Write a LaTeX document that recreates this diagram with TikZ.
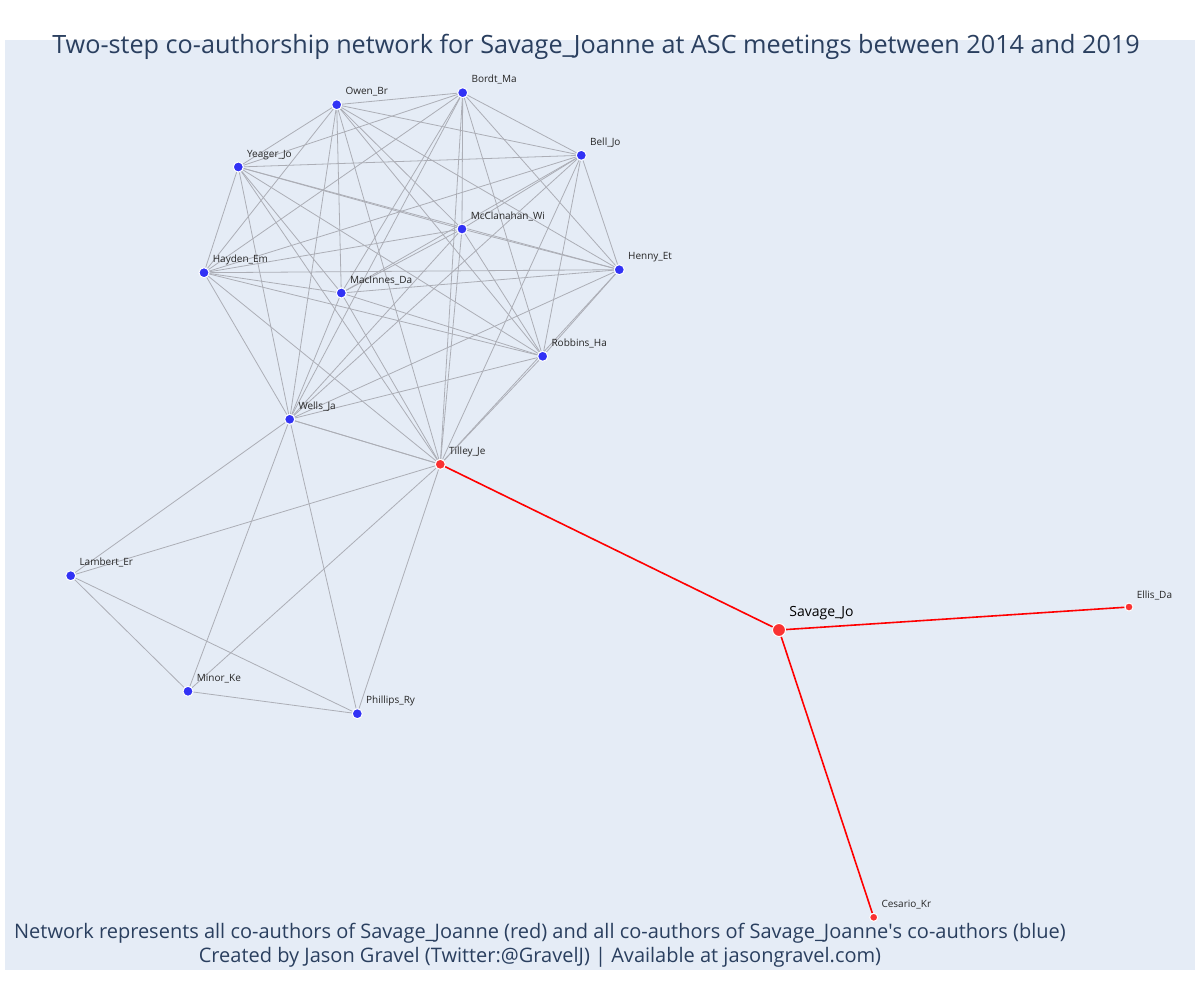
\documentclass[tikz,border=0pt]{standalone}
\usepackage{fontspec}
\setmainfont{Open Sans}
\usetikzlibrary{backgrounds}
\definecolor{plotbg}{HTML}{E5ECF6}
\definecolor{titlec}{HTML}{2A3F5F}
\definecolor{bluenode}{RGB}{50,50,245}
\definecolor{rednode}{RGB}{250,50,50}
\definecolor{edgec}{RGB}{172,174,182}

\begin{document}
\begin{tikzpicture}[x=0.75pt, y=-0.75pt,
  bnode/.style={circle, fill=bluenode, draw=white, line width=0.75pt, inner sep=0pt, minimum size=7.5pt},
  rnode/.style={bnode, fill=rednode},
  lbl/.style={font=\fontsize{7.5}{9}\selectfont, text=black!85, inner sep=0pt, anchor=base west, xshift=2.3pt, yshift=7.5pt},
  gline/.style={draw=edgec, line width=0.6pt},
  rline/.style={draw=red, line width=1.2pt}]
  \useasboundingbox (0,0) rectangle (1200,1000);

  % 蓝色节点（坐标按像素）
  \foreach \n/\x/\y/\t in {owen/336.7/104.7/Owen\_Br, bordt/462.7/92.7/Bordt\_Ma, bell/581.3/155.3/Bell\_Jo,
      yeager/238.3/167/Yeager\_Jo, mcclanahan/462/229/McClanahan\_Wi, hayden/204/272.7/Hayden\_Em,
      henny/619.3/269.7/Henny\_Et, macinnes/341.3/293/MacInnes\_Da, robbins/542.7/356.3/Robbins\_Ha,
      wells/289.7/419.3/Wells\_Ja, lambert/70.7/575.7/Lambert\_Er, minor/188/691.3/Minor\_Ke,
      phillips/357.3/713.7/Phillips\_Ry}
    \node[bnode, label={[lbl]0:\t}] (\n) at (\x,\y) {};

  % 红色节点
  \node[rnode, label={[lbl]0:Tilley\_Je}] (tilley) at (440.3,464.3) {};
  \node[rnode, minimum size=9.75pt, label={[lbl, font=\fontsize{10.5}{12}\selectfont, text=black, yshift=3pt]0:Savage\_Jo}] (savage) at (779,630) {};
  \node[rnode, minimum size=6pt, label={[lbl, yshift=-0.75pt]0:Ellis\_Da}] (ellis) at (1129,607) {};
  \node[rnode, minimum size=6pt, label={[lbl, yshift=-0.4pt]0:Cesario\_Kr}] (cesario) at (873.7,917.3) {};

  % 标题和说明
  \node[text=titlec, font=\fontsize{18.9}{22}\selectfont, anchor=base] (title) at (596,53)
    {Two-step co-authorship network for Savage\_Joanne at ASC meetings between 2014 and 2019};
  \node[text=titlec, font=\fontsize{15}{18}\selectfont, align=center, anchor=base] (note) at (540,962)
    {Network represents all co-authors of Savage\_Joanne (red) and all co-authors of Savage\_Joanne\textquotesingle s co-authors (blue)\\
     Created by Jason Gravel (Twitter:@GravelJ) | Available at jasongravel.com)};

  \begin{scope}[on background layer]
    \fill[plotbg] (5,40) rectangle (1195,970);
    % 上面的团：两两相连
    \foreach \a [count=\i] in {owen,bordt,bell,yeager,mcclanahan,hayden,henny,macinnes,robbins,wells,tilley}
      \foreach \b [count=\j] in {owen,bordt,bell,yeager,mcclanahan,hayden,henny,macinnes,robbins,wells,tilley}
        {\ifnum\i<\j \draw[gline] (\a) -- (\b); \fi}
    % 下面的团
    \foreach \a [count=\i] in {lambert,minor,phillips,wells,tilley}
      \foreach \b [count=\j] in {lambert,minor,phillips,wells,tilley}
        {\ifnum\i<\j \draw[gline] (\a) -- (\b); \fi}
    % Savage_Jo 的合作者
    \draw[rline] (tilley) -- (savage);
    \draw[rline] (savage) -- (ellis);
    \draw[rline] (savage) -- (cesario);
  \end{scope}
\end{tikzpicture}
\end{document}
